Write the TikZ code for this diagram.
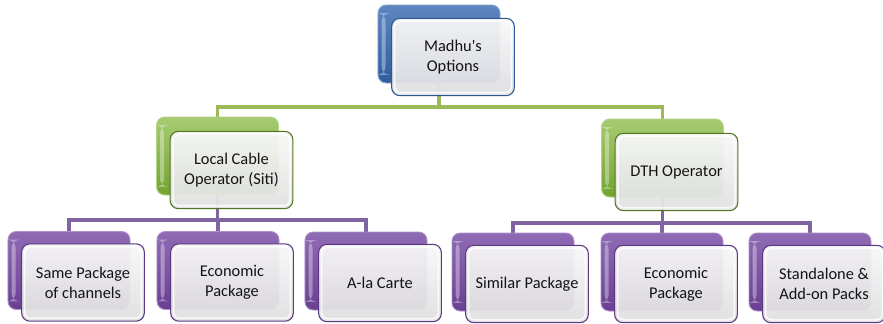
\documentclass[tikz,border=0pt]{standalone}
\usepackage{fontspec}
\setmainfont{Carlito}[Ligatures=TeXOff]
\usetikzlibrary{backgrounds}

\definecolor{optblue}{HTML}{3567B0}
\definecolor{optgreen}{HTML}{80B535}
\definecolor{optpurple}{HTML}{7446A2}
\definecolor{busgreen}{HTML}{9BBB59}
\definecolor{buspurple}{HTML}{8064A2}

\tikzset{
  back/.style={rounded corners=7pt, minimum width=3.66cm, minimum height=2.34cm, inner sep=0pt,
    line width=0.8pt,
    path picture={
      \fill[white, opacity=0.35] ([shift={(3pt,-7pt)}]path picture bounding box.north west)
        rectangle ([shift={(6.5pt,7pt)}]path picture bounding box.south west);
    }},
  front/.style={rounded corners=7pt, minimum width=3.68cm, minimum height=2.32cm, inner sep=2pt,
    line width=0.9pt, align=center, font=\fontsize{14}{17}\selectfont, text=black!92,
    fill opacity=0.95, text opacity=1,
    path picture={
      \draw[white, line width=1.4pt, opacity=0.8, rounded corners=5pt]
        ([shift={(2.5pt,2.5pt)}]path picture bounding box.south west)
        rectangle ([shift={(-2.5pt,-2.5pt)}]path picture bounding box.north east);
    }},
  bluebk/.style={back, draw=optblue!60!white, top color=optblue!80!white, bottom color=optblue!90!black},
  greenbk/.style={back, draw=optgreen!60!white, top color=optgreen!70!white, bottom color=optgreen!90!black},
  purplebk/.style={back, draw=optpurple!60!white, top color=optpurple!80!white, bottom color=optpurple!90!black},
  bluefr/.style={front, draw=optblue!85!black, top color=blue!2!gray!6, bottom color=blue!5!gray!24},
  greenfr/.style={front, draw=optgreen!65!black, top color=gray!6, bottom color=green!3!gray!24},
  purplefr/.style={front, draw=optpurple!80!black, top color=gray!6, bottom color=violet!4!gray!24},
  greenbus/.style={line width=3pt, draw=busgreen},
  purplebus/.style={line width=3pt, draw=buspurple},
}

\begin{document}
\begin{tikzpicture}[x=0.03cm, y=-0.03cm]
\useasboundingbox (0,0) rectangle (883,323);

% top level
\node[bluebk] (opt-b) at (439,44) {};
\node[bluefr] (opt) at ([shift={(14,13)}]opt-b) {Madhu's\\Options};

% second level
\node[greenbk] (cable-b) at (217.5,156) {};
\node[greenfr] (cable) at ([shift={(14,14)}]cable-b) {Local Cable\\Operator (Siti)};
\node[greenbk] (dth-b) at (662.5,158) {};
\node[greenfr] (dth) at ([shift={(14,14)}]dth-b) {DTH Operator};

% third level
\node[purplebk] (same-b) at (69,270.5) {};
\node[purplefr] (same) at ([shift={(14,12)}]same-b) {Same Package\\of channels};
\node[purplebk] (econ1-b) at (218,270.5) {};
\node[purplefr] (econ1) at ([shift={(14,12)}]econ1-b) {Economic\\Package};
\node[purplebk] (carte-b) at (366,271) {};
\node[purplefr] (carte) at ([shift={(14,12)}]carte-b) {A-la Carte};
\node[purplebk] (similar-b) at (513,272) {};
\node[purplefr] (similar) at ([shift={(14,12)}]similar-b) {Similar Package};
\node[purplebk] (econ2-b) at (662,272) {};
\node[purplefr] (econ2) at ([shift={(14,12)}]econ2-b) {Economic\\Package};
\node[purplebk] (packs-b) at (810,272) {};
\node[purplefr] (packs) at ([shift={(14,12)}]packs-b) {Standalone \&\\Add-on Packs};

% connectors, kept behind the boxes
\begin{scope}[on background layer]
\coordinate (bus1) at (0,107);
\coordinate (bus2) at (0,220);
\coordinate (bus3) at (0,223);
\draw[greenbus] (opt-b) -- (opt-b |- bus1);
\draw[greenbus] (cable-b) |- (dth-b |- bus1) -- (dth-b);
\draw[purplebus] (cable-b) -- (cable-b |- bus2);
\draw[purplebus] (same-b) |- (carte-b |- bus2) -- (carte-b);
\draw[purplebus] (econ1-b) -- (econ1-b |- bus2);
\draw[purplebus] (dth-b) -- (dth-b |- bus3);
\draw[purplebus] (similar-b) |- (packs-b |- bus3) -- (packs-b);
\draw[purplebus] (econ2-b) -- (econ2-b |- bus3);
\end{scope}
\end{tikzpicture}
\end{document}
